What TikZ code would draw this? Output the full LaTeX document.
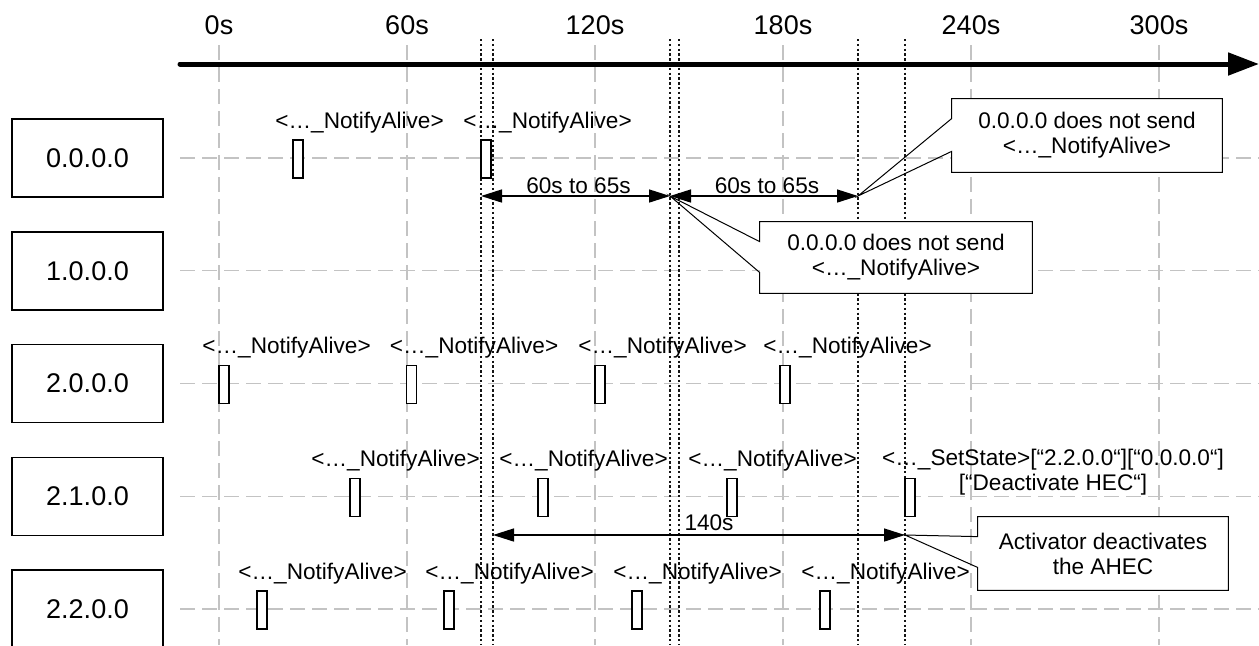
\documentclass[tikz,border=0pt]{standalone}
\usepackage{fontspec}
\setmainfont{Liberation Sans}
\usetikzlibrary{arrows.meta, positioning}
\definecolor{gridgrey}{RGB}{195,195,195}
\definecolor{markgrey}{RGB}{20,20,20}
\newcommand{\lblfont}{\fontsize{11.3}{12.5}\selectfont}
\newcommand{\bigfont}{\fontsize{13.5}{16}\selectfont}
\tikzset{
  lifebox/.style={rectangle, draw, line width=0.75pt, minimum width=75.5pt,
                  minimum height=39pt, font=\bigfont},
  msgbar/.style={rectangle, draw, fill=white, line width=0.65pt, inner sep=0pt,
                 outer sep=0pt, minimum width=5pt, minimum height=19pt},
  msglabel/.style={inner sep=0pt, font=\lblfont},
  timelabel/.style={inner sep=0pt, anchor=base, font=\bigfont},
  gridline/.style={draw=gridgrey, line width=0.6pt, dash pattern=on 7.5pt off 3.5pt},
  markline/.style={draw=markgrey, line width=0.6pt, dash pattern=on 1.2pt off 1.2pt},
  axis/.style={line width=2.5pt, line cap=round, -{Triangle[length=15.5pt,width=11pt]}},
  span/.style={line width=0.75pt,
               {Triangle[length=10.5pt,width=6.5pt]}-{Triangle[length=10.5pt,width=6.5pt]}},
  spanlabel/.style={above, inner sep=1pt, font=\lblfont},
  callbox/.style={rectangle, fill=white, inner sep=0pt, align=center, font=\lblfont},
  callline/.style={line width=0.5pt, line join=miter},
}

\begin{document}
\begin{tikzpicture}[x=0.5pt, y=-0.5pt]
  \useasboundingbox (0,0) rectangle (1259,645);
  % grid and time scale
  \foreach \x/\t in {219/0s, 407/60s, 595/120s, 783/180s, 971/240s, 1159/300s} {
    \draw[gridline] (\x,45) -- (\x,645);
    \node[timelabel] (t\t) at (\x,34) {\t};
  }
  \foreach \y in {158, 270.75, 383.5, 496.25, 609}
    \draw[gridline] (180,\y) -- (1259,\y);
  \foreach \x in {481, 493, 670, 679, 858, 905}
    \draw[markline] (\x,39) -- (\x,645);
  \coordinate (axstart) at (180,64);
  \coordinate (axend) at (1259,64);
  \draw[axis] (axstart) -- (axend);

  % lifelines
  \node[lifebox] (n0000) at (87.5,158) {0.0.0.0};
  \node[lifebox] (n1000) at (87.5,270.75) {1.0.0.0};
  \node[lifebox] (n2000) at (87.5,383.5) {2.0.0.0};
  \node[lifebox] (n2100) at (87.5,496.25) {2.1.0.0};
  \node[lifebox] (n2200) at (87.5,609) {2.2.0.0};

  % messages
  \foreach \x [count=\i] in {293, 481} {
    \node[msgbar] (a\i) at (\x+5,159) {};
    \node[msglabel, above right=6pt and -9pt of a\i.north west, anchor=base west] (la\i) {<…\_NotifyAlive>};
  }
  \foreach \x [count=\i] in {219, 406.5, 595, 780} {
    \node[msgbar] (b\i) at (\x+5,384.5) {};
    \node[msglabel, above right=6pt and -8.5pt of b\i.north west, anchor=base west] (lb\i) {<…\_NotifyAlive>};
  }
  \foreach \x [count=\i] in {350, 538, 727} {
    \node[msgbar] (c\i) at (\x+5,497.25) {};
    \node[msglabel, above right=6pt and -19.5pt of c\i.north west, anchor=base west] (lc\i) {<…\_NotifyAlive>};
  }
  \node[msgbar] (c4) at (910,497.25) {};
  \node[msglabel, align=center] (lc4) at (1053,472)
    {<…\_SetState>[“2.2.0.0“][“0.0.0.0“]\\{}[“Deactivate HEC“]};
  \foreach \x [count=\i] in {257, 444, 632, 820} {
    \node[msgbar] (d\i) at (\x+5,610) {};
    \node[msglabel, above right=6pt and -9.5pt of d\i.north west, anchor=base west] (ld\i) {<…\_NotifyAlive>};
  }

  % intervals
  \coordinate (p1) at (481,196);
  \coordinate (p2) at (670,196);
  \coordinate (p3) at (858,196);
  \coordinate (q1) at (493,535);
  \coordinate (q2) at (905,535);
  \draw[span] (p1) -- node[spanlabel, xshift=1.5pt] (s1) {60s to 65s} (p2);
  \draw[span] (p2) -- node[spanlabel, xshift=1.5pt] (s2) {60s to 65s} (p3);
  \draw[span] (q1) -- node[spanlabel, inner sep=2pt, xshift=5pt] (s3) {140s} (q2);

  % callouts
  \node[callbox, minimum width=135pt, minimum height=36.5pt] (note1) at (1087,135.5)
    {0.0.0.0 does not send\\<…\_NotifyAlive>};
  \draw[callline] ([yshift=-10pt]note1.north west) -- (note1.north west) -- (note1.north east)
    -- (note1.south east) -- (note1.south west) -- ([yshift=10.5pt]note1.south west) -- (p3) -- cycle;
  \node[callbox, minimum width=136pt, minimum height=35.5pt] (note2) at (896,257.5)
    {0.0.0.0 does not send\\<…\_NotifyAlive>};
  \draw[callline] ([yshift=-10pt]note2.north west) -- (note2.north west) -- (note2.north east)
    -- (note2.south east) -- (note2.south west) -- ([yshift=10.5pt]note2.south west) -- (p2) -- cycle;
  \node[callbox, minimum width=125pt, minimum height=36.5pt] (note3) at (1103,553.5)
    {Activator deactivates\\the AHEC};
  \draw[callline] ([yshift=-10pt]note3.north west) -- (note3.north west) -- (note3.north east)
    -- (note3.south east) -- (note3.south west) -- ([yshift=11.5pt]note3.south west) -- (q2) -- cycle;
\end{tikzpicture}
\end{document}
